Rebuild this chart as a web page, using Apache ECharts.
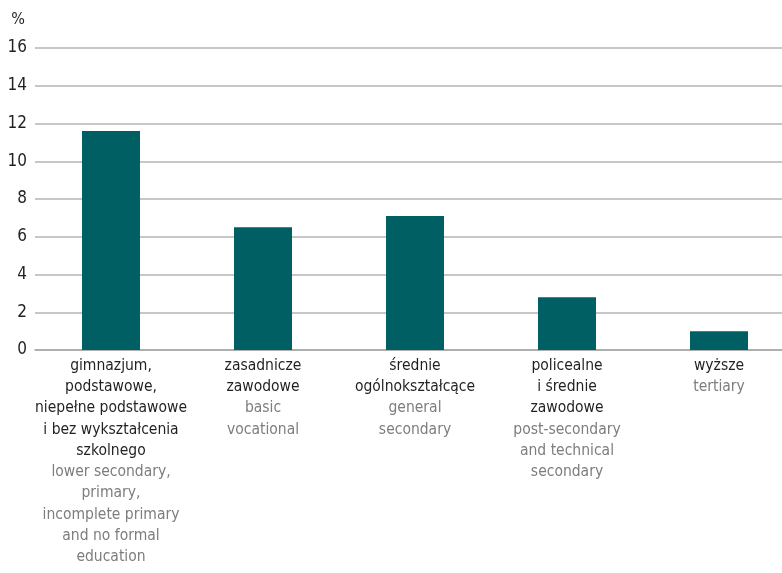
<!DOCTYPE html>
<html>
<head>
<meta charset="utf-8">
<script src="https://cdn.jsdelivr.net/npm/echarts@6/dist/echarts.min.js"></script>
<style>html,body{margin:0;padding:0;background:#fff;overflow:hidden;width:782px;height:573px}#c{width:795px;height:573px}</style>
</head>
<body>
<div id="c"></div>
<script>
const categoriesPl = [
  "gimnazjum,\npodstawowe,\nniepełne podstawowe\ni bez wykształcenia\nszkolnego",
  "zasadnicze\nzawodowe",
  "średnie\nogólnokształcące",
  "policealne\ni średnie\nzawodowe",
  "wyższe"
];
const categoriesEn = [
  "lower secondary,\nprimary,\nincomplete primary\nand no formal\neducation",
  "basic\nvocational",
  "general\nsecondary",
  "post-secondary\nand technical\nsecondary",
  "tertiary"
];
const values = [11.6, 6.5, 7.1, 2.8, 1.0];
const yTicks = { min: 0, max: 16, interval: 2 };
const yUnit = "%";

const FONT = '"Liberation Sans Narrow", "DejaVu Sans Condensed", sans-serif';
const chart = echarts.init(document.getElementById('c'));
const cats = categoriesPl.map((p, i) => i);
function fmt(v) {
  const i = Number(v);
  const pl = categoriesPl[i].split('\n').map(s => '{pl|' + s + '}');
  const en = categoriesEn[i].split('\n').map(s => '{en|' + s + '}');
  return pl.concat(en).join('\n');
}
chart.setOption({
  animation: false,
  grid: { left: 35, right: 0, top: 48, height: 302, containLabel: false },
  xAxis: {
    type: 'category',
    data: cats.map(String),
    axisLine: { lineStyle: { color: '#a8a8a8', width: 1.5 } },
    axisTick: { show: false },
    axisLabel: {
      interval: 0,
      margin: 5,
      formatter: fmt,
      rich: {
        pl: { fontFamily: FONT, fontSize: 15.5, color: '#231f20', lineHeight: 21.3, align: 'center' },
        en: { fontFamily: FONT, fontSize: 15.5, color: '#7d7d7d', lineHeight: 21.3, align: 'center' }
      }
    }
  },
  yAxis: {
    type: 'value',
    min: yTicks.min, max: yTicks.max, interval: yTicks.interval,
    name: yUnit,
    nameLocation: 'end',
    nameGap: 20,
    nameTextStyle: { fontFamily: FONT, fontSize: 16, color: '#231f20', align: 'right', padding: [0, 10, 0, 0] },
    axisLine: { show: false },
    axisTick: { show: false },
    axisLabel: { fontFamily: FONT, fontSize: 17, color: '#231f20', margin: 8 },
    splitLine: { lineStyle: { color: '#b4b4b4', width: 1.5 } }
  },
  series: [{
    type: 'bar',
    data: values,
    barWidth: 58,
    itemStyle: { color: '#005f63' }
  }]
});
</script>
</body>
</html>
